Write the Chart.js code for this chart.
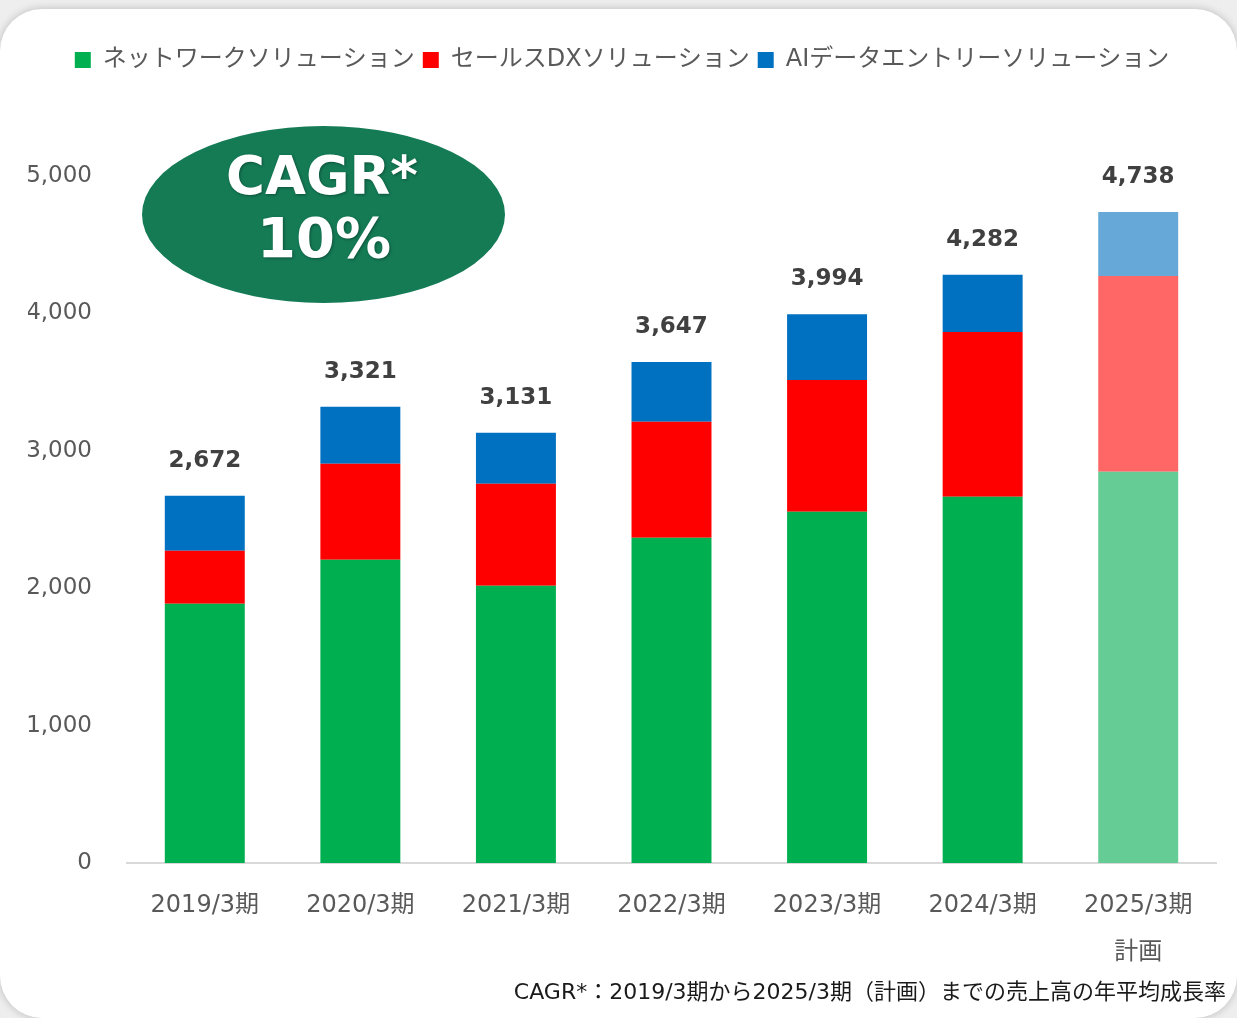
<!DOCTYPE html>
<html><head><meta charset="utf-8">
<script src="https://cdn.jsdelivr.net/npm/chart.js@4/dist/chart.umd.min.js"></script>
<style>
html,body{margin:0;padding:0;background:#eeeeee;width:1237px;height:1018px;overflow:hidden;}
#card{position:absolute;left:0;top:9px;width:1237px;height:1009px;background:#fff;border-radius:42px;box-shadow:0 0 8px rgba(0,0,0,0.22);}
#wrap{position:absolute;left:0;top:0;width:1237px;height:1018px;}
</style></head><body>
<div id="card"></div>
<div id="wrap"><canvas id="c" width="1237" height="1018"></canvas></div>
<script>
const categories = [["2019/3期"],["2020/3期"],["2021/3期"],["2022/3期"],["2023/3期"],["2024/3期"],["2025/3期","計画"]];
const seriesNames = ["ネットワークソリューション","セールスDXソリューション","AIデータエントリーソリューション"];
const networkValues = [1887, 2207, 2018, 2367, 2556, 2665, 2847];
const salesDxValues = [386, 698, 742, 844, 960, 1200, 1426];
const aiEntryValues = [399, 416, 371, 436, 478, 417, 465];
const yTicks = [0, 1000, 2000, 3000, 4000, 5000];
const cagrLines = ["CAGR*", "10%"];
const footnote = "CAGR*：2019/3期から2025/3期（計画）までの売上高の年平均成長率";

const FONT = "'DejaVu Sans','Noto Sans CJK JP',sans-serif";
const CJK = "'Noto Sans CJK JP','Noto Sans',sans-serif";
const baseColors = ["#00B050","#FF0000","#0070C0"];
const planColors = ["#66CC95","#FF6666","#66A8D8"];
const isPlan = categories.map(c => c.length > 1);
const colorsFor = i => categories.map((c, k) => isPlan[k] ? planColors[i] : baseColors[i]);

const totalsPlugin = {
  id: 'totals',
  afterDatasetsDraw(chart) {
    const ctx = chart.ctx;
    const y = chart.scales.y, x = chart.scales.x;
    ctx.save();
    ctx.font = "bold 23px " + FONT;
    ctx.fillStyle = "#404040";
    ctx.textAlign = "center";
    ctx.textBaseline = "middle";
    categories.forEach((c, i) => {
      const total = networkValues[i] + salesDxValues[i] + aiEntryValues[i];
      ctx.fillText(total.toLocaleString('en-US'), x.getPixelForValue(i), y.getPixelForValue(total) - 35);
    });
    ctx.restore();
  }
};
const decoPlugin = {
  id: 'deco',
  afterDraw(chart) {
    const ctx = chart.ctx;
    ctx.save();
    ctx.beginPath();
    ctx.ellipse(323.5, 214.5, 181.5, 88.5, 0, 0, Math.PI * 2);
    ctx.fillStyle = "#147B55";
    ctx.fill();
    ctx.fillStyle = "#ffffff";
    ctx.textAlign = "center";
    ctx.textBaseline = "middle";
    ctx.shadowColor = "rgba(0,0,0,0.35)";
    ctx.shadowBlur = 3; ctx.shadowOffsetX = 1; ctx.shadowOffsetY = 1;
    ctx.font = "bold 53px 'DejaVu Sans'," + CJK;
    ctx.fillText(cagrLines[0], 322, 180);
    ctx.font = "bold 56px 'DejaVu Sans'," + CJK;
    ctx.fillText(cagrLines[1], 324, 242);
    ctx.shadowColor = "transparent";
    ctx.font = "22px " + FONT;
    ctx.fillStyle = "#1a1a1a";
    ctx.textAlign = "right";
    ctx.fillText(footnote, 1226, 993);
    ctx.restore();
  }
};
const legendSpace = {
  id: 'legendSpace',
  beforeInit(chart) {
    const orig = chart.legend.fit;
    chart.legend.fit = function() { orig.call(this); this.height = 136; };
  }
};

new Chart(document.getElementById('c'), {
  type: 'bar',
  data: {
    labels: categories,
    datasets: [
      {label: seriesNames[0], data: networkValues, backgroundColor: colorsFor(0), legendColor: baseColors[0]},
      {label: seriesNames[1], data: salesDxValues, backgroundColor: colorsFor(1), legendColor: baseColors[1]},
      {label: seriesNames[2], data: aiEntryValues, backgroundColor: colorsFor(2), legendColor: baseColors[2]}
    ]
  },
  options: {
    responsive: false,
    animation: false,
    layout: {padding: {top: 40, left: 28, right: 21, bottom: 0}},
    datasets: {bar: {barPercentage: 0.514, categoryPercentage: 1.0}},
    plugins: {
      legend: {
        position: 'top',
        labels: {
          font: {family: FONT, size: 24},
          color: '#595959',
          boxWidth: 16, boxHeight: 16, padding: 8,
          generateLabels(chart) {
            return chart.data.datasets.map((d, i) => ({
              text: d.label, fillStyle: d.legendColor, strokeStyle: d.legendColor,
              lineWidth: 0, hidden: false, datasetIndex: i, fontColor: '#595959'
            }));
          }
        }
      },
      tooltip: {enabled: false}
    },
    scales: {
      x: {
        stacked: true,
        grid: {display: false, drawTicks: false},
        border: {display: true, color: '#d9d9d9', width: 2},
        ticks: {font: {family: FONT, size: 24, lineHeight: 1.96}, color: '#595959', padding: 19},
        afterFit(s) { s.height = 155; }
      },
      y: {
        stacked: true,
        min: yTicks[0], max: yTicks[yTicks.length - 1],
        afterBuildTicks(s) { s.ticks = yTicks.map(v => ({value: v})); },
        grid: {display: false, drawTicks: false},
        border: {display: false},
        ticks: {font: {family: FONT, size: 23}, color: '#595959', padding: 35,
          callback: v => v.toLocaleString('en-US')},
        afterFit(s) { s.width = 99; }
      }
    }
  },
  plugins: [totalsPlugin, decoPlugin, legendSpace]
});
</script>
</body></html>
